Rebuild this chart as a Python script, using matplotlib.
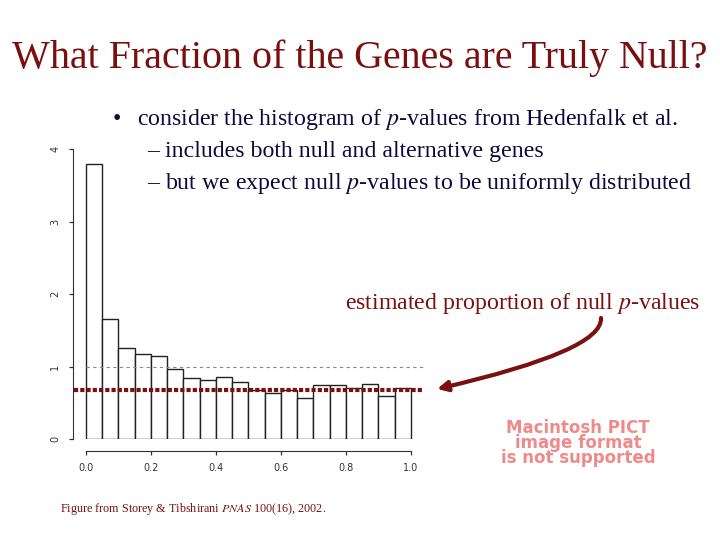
import matplotlib
matplotlib.use("Agg")
import matplotlib.pyplot as plt
import numpy as np

# ---- data ----
bin_edges = [0.00, 0.05, 0.10, 0.15, 0.20, 0.25, 0.30, 0.35, 0.40, 0.45, 0.50,
             0.55, 0.60, 0.65, 0.70, 0.75, 0.80, 0.85, 0.90, 0.95, 1.00]
density = [3.80, 1.66, 1.25, 1.17, 1.15, 0.97, 0.84, 0.81, 0.85, 0.78,
           0.67, 0.64, 0.67, 0.56, 0.74, 0.74, 0.70, 0.76, 0.60, 0.71]
pi0 = 0.67
x_ticks = [0.0, 0.2, 0.4, 0.6, 0.8, 1.0]
x_tick_labels = ["0.0", "0.2", "0.4", "0.6", "0.8", "1.0"]
y_ticks = [0, 1, 2, 3, 4]

W, H = 720, 540
fig = plt.figure(figsize=(7.2, 5.4), dpi=100)
fig.patch.set_facecolor("white")

def fx(px):
    return px / W

def fy(py):
    return 1 - py / H

title_col = "#7a0f0f"
text_col = "#0a0a3c"
serif = ["Liberation Serif", "DejaVu Serif"]

# ---- histogram axes ----
ax = fig.add_axes([fx(72.7), fy(439), (424 - 72.7) / W, (439 - 149) / H])
ax.set_xlim(-0.04, 1.04)
ax.set_ylim(0, 4)
ax.patch.set_alpha(0)
widths = np.diff(bin_edges)
ax.bar(bin_edges[:-1], density, width=widths, align="edge",
       facecolor="white", edgecolor="#222222", linewidth=1.0, zorder=2)
ax.hlines(1.0, 0.0, 1.04, colors="#888888", linestyles=(0, (3, 3)), linewidth=0.8, zorder=3)
ax.axhline(pi0, color="#7a1010", linestyle=(0, (1.0, 0.5)), linewidth=3.0, zorder=4,
           xmin=0.004, xmax=1.0)
for s in ["top", "right"]:
    ax.spines[s].set_visible(False)
ax.spines["left"].set_bounds(0, 4)
ax.spines["bottom"].set_bounds(0, 1)
ax.spines["bottom"].set_position(("outward", 8.6))
ax.spines["left"].set_color("#333333")
ax.spines["bottom"].set_color("#333333")
ax.set_xticks(x_ticks)
ax.set_xticklabels(x_tick_labels)
ax.set_yticks(y_ticks)
ax.set_yticklabels([str(v) for v in y_ticks], rotation=90, va="center")
ax.tick_params(axis="both", labelsize=7, colors="#333333", length=3, width=0.9)
ax.tick_params(axis="y", pad=6)
ax.tick_params(axis="x", pad=6)

# ---- slide texts ----
fig.text(fx(360), fy(58), "What Fraction of the Genes are Truly Null?",
         ha="center", va="center", fontsize=28.8, color=title_col, family=serif)

fs = 17.2
fig.text(fx(113), fy(119), "\u2022", ha="left", va="center", fontsize=fs,
         color=text_col, family=serif)
fig.text(fx(137), fy(119), "consider the histogram of $p$-values from Hedenfalk et al.",
         ha="left", va="center", fontsize=fs, color=text_col, family=serif,
         math_fontfamily="stix")
fig.text(fx(147), fy(151), "\u2013 includes both null and alternative genes",
         ha="left", va="center", fontsize=fs, color=text_col, family=serif)
fig.text(fx(147), fy(183), "\u2013 but we expect null $p$-values to be uniformly distributed",
         ha="left", va="center", fontsize=fs, color=text_col, family=serif,
         math_fontfamily="stix")

fig.text(fx(345), fy(303), "estimated proportion of null $p$-values",
         ha="left", va="center", fontsize=fs, color=title_col, family=serif,
         math_fontfamily="stix")

fig.text(fx(60), fy(509), "Figure from Storey & Tibshirani $PNAS$ 100(16), 2002.",
         ha="left", va="center", fontsize=8.7, color=title_col, family=serif,
         math_fontfamily="stix")

fig.text(fx(578), fy(443), "Macintosh PICT\nimage format\nis not supported",
         ha="center", va="center", fontsize=12, color="#f08a8a", weight="bold",
         family=["DejaVu Sans"], linespacing=0.8)

# ---- arrow ----
fig.add_artist(matplotlib.patches.FancyArrowPatch(
    posA=(fx(601), fy(318)), posB=(fx(437), fy(389)),
    transform=fig.transFigure,
    connectionstyle="angle3,angleA=-86,angleB=13",
    arrowstyle="-|>,head_length=6,head_width=3",
    color="#7a1010", linewidth=3.0, shrinkA=0, shrinkB=0))

fig.savefig("out.png", dpi=100, facecolor="white")
